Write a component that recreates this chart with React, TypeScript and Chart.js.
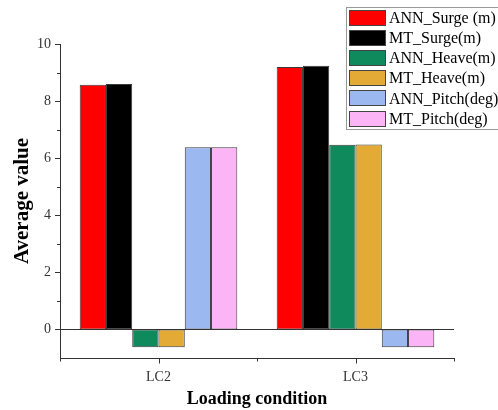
import React, { useEffect, useRef } from "react";
import { Chart, registerables } from "chart.js";

Chart.register(...registerables);

const categories = ["LC2", "LC3"];
const seriesNames = [
  "ANN_Surge (m)",
  "MT_Surge(m)",
  "ANN_Heave(m)",
  "MT_Heave(m)",
  "ANN_Pitch(deg)",
  "MT_Pitch(deg)",
];
const annSurge = [8.57, 9.19];
const mtSurge = [8.6, 9.24];
const annHeave = [-0.62, 6.47];
const mtHeave = [-0.62, 6.48];
const annPitch = [6.38, -0.62];
const mtPitch = [6.38, -0.62];
const yTicks = [0, 2, 4, 6, 8, 10];
const yMinorTicks = [1, 3, 5, 7, 9];

const seriesValues = [annSurge, mtSurge, annHeave, mtHeave, annPitch, mtPitch];
const colors = ["#ff0000", "#000000", "#0f8a5c", "#e3ab36", "#9cb8f0", "#fbb4f6"];

const SERIF = "'Liberation Serif', 'Times New Roman', serif";

const decorPlugin = {
  id: "decor",
  afterDraw(chart: any) {
    const ctx = chart.ctx;
    const x = chart.scales.x;
    const y = chart.scales.y;
    const area = chart.chartArea;
    ctx.save();
    ctx.strokeStyle = "#333";
    ctx.lineWidth = 1;
    yTicks.forEach((v) => {
      const py = Math.round(y.getPixelForValue(v)) + 0.5;
      ctx.beginPath();
      ctx.moveTo(area.left - 5, py);
      ctx.lineTo(area.left, py);
      ctx.stroke();
    });
    yMinorTicks.forEach((v) => {
      const py = Math.round(y.getPixelForValue(v)) + 0.5;
      ctx.beginPath();
      ctx.moveTo(area.left - 3, py);
      ctx.lineTo(area.left, py);
      ctx.stroke();
    });
    const zy = Math.round(y.getPixelForValue(0)) + 0.5;
    ctx.beginPath();
    ctx.moveTo(area.left, zy);
    ctx.lineTo(area.right, zy);
    ctx.stroke();
    const by = Math.round(area.bottom) + 0.5;
    categories.forEach((_, i) => {
      const px = Math.round(x.getPixelForValue(i)) + 0.5;
      ctx.beginPath();
      ctx.moveTo(px, by);
      ctx.lineTo(px, by + 5);
      ctx.stroke();
    });
    for (let i = 0; i <= categories.length; i++) {
      const px = Math.round(x.getPixelForValue(i - 0.5)) + 0.5;
      ctx.beginPath();
      ctx.moveTo(px, by);
      ctx.lineTo(px, by + 3);
      ctx.stroke();
    }
    const lx = 346;
    const ly = 7;
    ctx.strokeStyle = "#999";
    ctx.fillStyle = "#fff";
    ctx.fillRect(lx, ly, 160, 122);
    ctx.strokeRect(lx + 0.5, ly + 0.5, 160, 122);
    ctx.font = "16px " + SERIF;
    ctx.textBaseline = "middle";
    ctx.textAlign = "left";
    seriesNames.forEach((name, i) => {
      const cy = ly + 10.5 + i * 20.2;
      ctx.fillStyle = colors[i];
      ctx.fillRect(349, Math.round(cy - 8), 37, 16);
      ctx.strokeStyle = "#444";
      ctx.strokeRect(349.5, Math.round(cy - 8) + 0.5, 36, 15);
      ctx.fillStyle = "#000";
      ctx.fillText(name, 389, cy + 1);
    });
    ctx.restore();
  },
};

export default function App() {
  const ref = useRef<HTMLCanvasElement | null>(null);
  useEffect(() => {
    if (!ref.current) return;
    const chart = new Chart(ref.current, {
      type: "bar",
      data: {
        labels: categories,
        datasets: seriesNames.map((name, i) => ({
          label: name,
          data: seriesValues[i],
          backgroundColor: colors[i],
          borderColor: "#3a3a3a",
          borderWidth: 1,
          borderSkipped: false,
          categoryPercentage: 0.8,
          barPercentage: 1.0,
        })),
      },
      options: {
        responsive: false,
        animation: false,
        layout: { padding: { top: 44, right: 44, left: 0, bottom: 0 } },
        plugins: { legend: { display: false }, tooltip: { enabled: false } },
        scales: {
          x: {
            type: "category",
            grid: { display: false, drawTicks: false },
            border: { display: true, color: "#333", width: 1 },
            ticks: { font: { family: SERIF, size: 14 }, color: "#333", padding: 11 },
            title: {
              display: true,
              text: "Loading condition",
              font: { family: SERIF, size: 18, weight: "bold" },
              color: "#000",
              padding: { top: 0, bottom: 0 },
            },
            afterFit: (s: any) => {
              s.height = 52;
            },
          },
          y: {
            min: -1,
            max: 10,
            grid: { display: false, drawTicks: false },
            border: { display: true, color: "#333", width: 1 },
            ticks: { font: { family: SERIF, size: 14 }, color: "#333", padding: 9 },
            afterBuildTicks: (s: any) => {
              s.ticks = yTicks.map((v) => ({ value: v }));
            },
            title: {
              display: true,
              text: "Average value",
              font: { family: SERIF, size: 21, weight: "bold" },
              color: "#000",
              padding: { top: 10, bottom: 0 },
            },
            afterFit: (s: any) => {
              s.width = 60;
            },
          },
        },
      },
      plugins: [decorPlugin],
    });
    return () => chart.destroy();
  }, []);
  return (
    <div style={{ position: "absolute", left: 0, top: 0, width: 498, height: 410, background: "#fff" }}>
      <canvas ref={ref} width={498} height={410} />
    </div>
  );
}
